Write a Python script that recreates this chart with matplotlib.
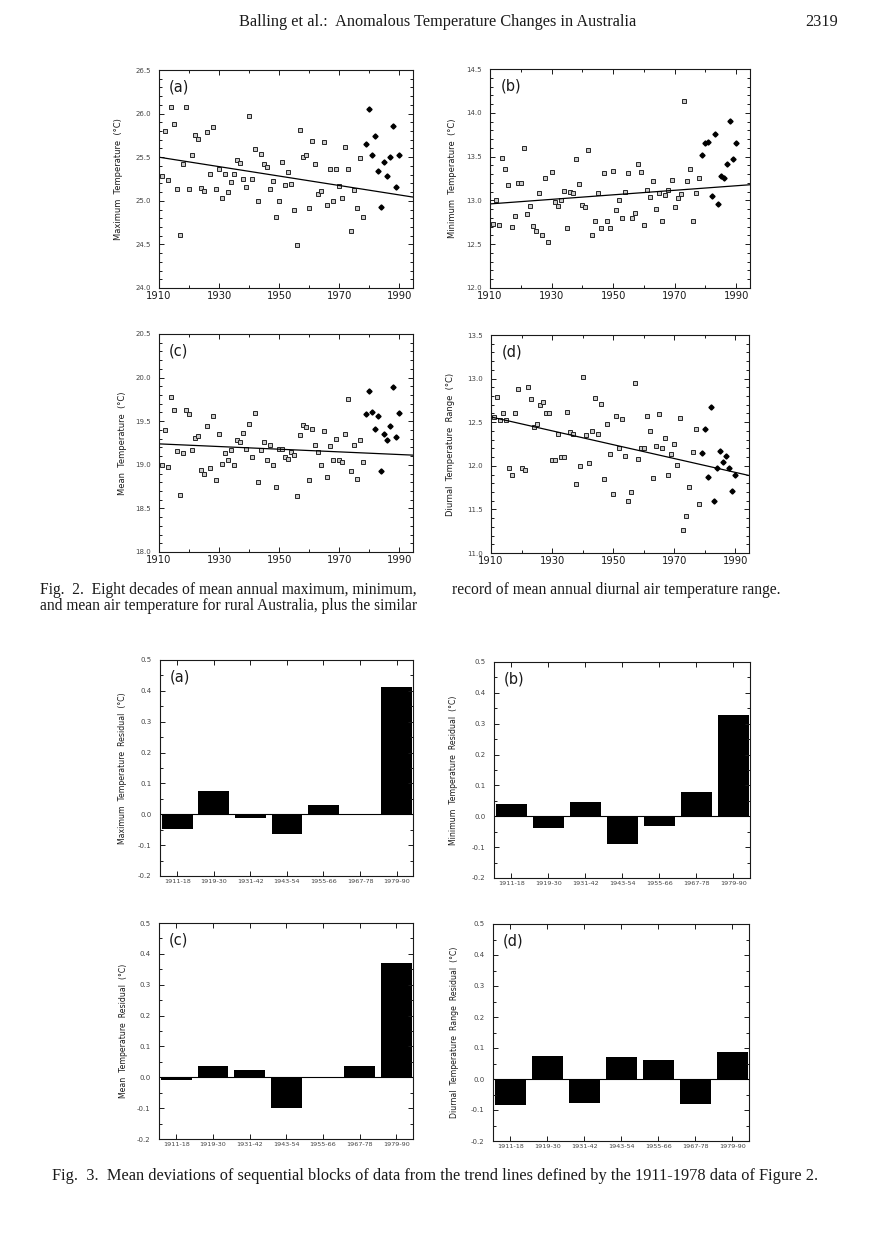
import numpy as np
import matplotlib.pyplot as plt
from matplotlib.ticker import MultipleLocator, FixedLocator, FormatStrFormatter

W, H = 876, 1250

# years: open squares = 1911-1978 (trend period), filled diamonds = 1979-1990
sq_years = list(range(1911, 1979))
dm_years = list(range(1979, 1991))
trend_years = [1910, 1995]

max_sq = [25.29, 25.80, 25.24, 26.08, 25.88, 25.14, 24.61, 25.42, 26.07, 25.14,
          25.53, 25.75, 25.71, 25.15, 25.11, 25.79, 25.31, 25.85, 25.13, 25.37,
          25.03, 25.31, 25.10, 25.21, 25.31, 25.47, 25.43, 25.25, 25.16, 25.97,
          25.25, 25.59, 25.00, 25.54, 25.42, 25.39, 25.14, 25.23, 24.81, 25.00,
          25.45, 25.18, 25.33, 25.19, 24.90, 24.49, 25.81, 25.50, 25.52, 24.92,
          25.69, 25.42, 25.08, 25.11, 25.67, 24.95, 25.36, 25.00, 25.36, 25.17,
          25.03, 25.62, 25.37, 24.65, 25.12, 24.92, 25.49, 24.81]
max_dm = [25.65, 26.05, 25.53, 25.74, 25.34, 24.93, 25.44, 25.28, 25.50, 25.86, 25.16, 25.53]
max_trend = [25.50, 25.04]

min_sq = [12.73, 13.01, 12.72, 13.48, 13.36, 13.18, 12.70, 12.82, 13.20, 13.20,
          13.60, 12.85, 12.94, 12.71, 12.65, 13.09, 12.60, 13.25, 12.52, 13.32,
          12.98, 12.94, 13.00, 13.11, 12.69, 13.10, 13.08, 13.47, 13.19, 12.95,
          12.92, 13.57, 12.61, 12.77, 13.08, 12.69, 13.31, 12.76, 12.69, 13.34,
          12.89, 13.00, 12.80, 13.10, 13.31, 12.80, 12.86, 13.41, 13.32, 12.72,
          13.12, 13.04, 13.22, 12.90, 13.09, 12.76, 13.06, 13.12, 13.23, 12.93,
          13.03, 13.07, 14.13, 13.22, 13.36, 12.77, 13.09, 13.26]
min_dm = [13.52, 13.65, 13.67, 13.05, 13.76, 12.96, 13.28, 13.26, 13.41, 13.91, 13.47, 13.66]
min_trend = [12.96, 13.18]

mean_sq = [19.00, 19.40, 18.98, 19.78, 19.63, 19.16, 18.65, 19.13, 19.63, 19.58,
           19.17, 19.31, 19.33, 18.94, 18.89, 19.45, 18.96, 19.56, 18.82, 19.35,
           19.01, 19.13, 19.06, 19.17, 19.00, 19.29, 19.26, 19.37, 19.18, 19.47,
           19.09, 19.59, 18.80, 19.17, 19.26, 19.05, 19.23, 19.00, 18.75, 19.18,
           19.18, 19.09, 19.07, 19.15, 19.11, 18.64, 19.34, 19.46, 19.43, 18.82,
           19.41, 19.23, 19.15, 19.00, 19.39, 18.86, 19.22, 19.06, 19.30, 19.05,
           19.03, 19.35, 19.75, 18.93, 19.23, 18.84, 19.29, 19.03]
mean_dm = [19.58, 19.85, 19.60, 19.41, 19.56, 18.93, 19.35, 19.28, 19.45, 19.89, 19.32, 19.59]
mean_trend = [19.24, 19.11]

dtr_sq = [12.56, 12.79, 12.52, 12.60, 12.53, 11.97, 11.90, 12.61, 12.88, 11.97,
          11.95, 12.90, 12.77, 12.45, 12.48, 12.70, 12.73, 12.60, 12.61, 12.07,
          12.07, 12.37, 12.10, 12.10, 12.62, 12.39, 12.37, 11.79, 12.00, 13.02,
          12.35, 12.03, 12.40, 12.78, 12.36, 12.71, 11.85, 12.48, 12.13, 11.68,
          12.57, 12.20, 12.54, 12.11, 11.60, 11.70, 12.95, 12.08, 12.20, 12.20,
          12.57, 12.40, 11.86, 12.23, 12.59, 12.20, 12.32, 11.90, 12.14, 12.25,
          12.01, 12.55, 11.26, 11.43, 11.76, 12.16, 12.42, 11.56]
dtr_dm = [12.15, 12.42, 11.87, 12.67, 11.60, 11.97, 12.17, 12.04, 12.11, 11.97, 11.71, 11.90]
dtr_trend = [12.56, 11.885]

# Fig. 3 block residuals
blocks = ["1911-18", "1919-30", "1931-42", "1943-54", "1955-66", "1967-78", "1979-90"]
max_resid = [-0.047, 0.075, -0.012, -0.065, 0.031, 0.0, 0.414]
min_resid = [0.039, -0.039, 0.045, -0.090, -0.032, 0.080, 0.328]
mean_resid = [-0.008, 0.035, 0.025, -0.100, 0.0, 0.038, 0.369]
dtr_resid = [-0.083, 0.074, -0.076, 0.070, 0.062, -0.082, 0.086]

INK = "#1a1a1a"
GREY = "#444444"

fig = plt.figure(figsize=(W / 100, H / 100), dpi=100)
fig.patch.set_facecolor("white")


def px_axes(left, top, right, bottom):
    return fig.add_axes([left / W, 1 - bottom / H, (right - left) / W, (bottom - top) / H])


def style_frame(ax):
    for s in ax.spines.values():
        s.set_linewidth(0.8)
        s.set_color(INK)
    ax.tick_params(which="both", direction="in", top=True, right=True,
                   color=INK, width=0.7)
    ax.tick_params(which="major", length=3.5)
    ax.tick_params(which="minor", length=2.2)


def scatter_panel(box, sq, dm, trend, ylim, ylabel, tag, label_x):
    ax = px_axes(*box)
    ax.plot(sq_years, sq, ls="none", marker="s", ms=3.4, mfc="#cccccc",
            mec="#262626", mew=0.7)
    ax.plot(dm_years, dm, ls="none", marker="D", ms=2.6, color="black")
    ax.plot(trend_years, trend, color="black", lw=0.9)
    ax.set_xlim(1910, 1994.5)
    ax.set_ylim(*ylim)
    ax.xaxis.set_major_locator(FixedLocator([1910, 1930, 1950, 1970, 1990]))
    ax.xaxis.set_minor_locator(MultipleLocator(10))
    ax.yaxis.set_major_locator(MultipleLocator(0.5))
    ax.yaxis.set_minor_locator(MultipleLocator(0.1))
    ax.yaxis.set_major_formatter(FormatStrFormatter("%.1f"))
    style_frame(ax)
    ax.tick_params(axis="x", labelsize=7.2, pad=2.5, labelcolor=INK)
    ax.tick_params(axis="y", labelsize=5, pad=6, labelcolor=GREY)
    ax.set_ylabel(ylabel, fontsize=6, color=INK)
    ax.yaxis.set_label_coords(label_x, 0.5)
    ax.text(0.04, 0.955, tag, transform=ax.transAxes, fontsize=10.5,
            ha="left", va="top", color=INK)
    return ax


def bar_panel(box, resid, ylabel, tag, label_x):
    ax = px_axes(*box)
    x = np.arange(len(blocks))
    ax.bar(x, resid, width=0.84, color="black")
    ax.axhline(0, color="black", lw=0.8)
    ax.set_xlim(-0.47, 6.45)
    ax.set_ylim(-0.2, 0.5)
    ax.set_xticks(x)
    ax.set_xticklabels(blocks)
    ax.yaxis.set_major_locator(MultipleLocator(0.1))
    ax.yaxis.set_minor_locator(MultipleLocator(0.05))
    ax.yaxis.set_major_formatter(FormatStrFormatter("%.1f"))
    style_frame(ax)
    ax.tick_params(axis="x", labelsize=4.6, pad=2.5, labelcolor=GREY)
    ax.tick_params(axis="y", labelsize=5, pad=6, labelcolor=GREY)
    ax.set_ylabel(ylabel, fontsize=5.6, color=INK)
    ax.yaxis.set_label_coords(label_x, 0.5)
    ax.text(0.04, 0.955, tag, transform=ax.transAxes, fontsize=10.5,
            ha="left", va="top", color=INK)
    return ax


# Fig. 2 scatter panels
scatter_panel((159, 70, 413, 288), max_sq, max_dm, max_trend, (24.0, 26.5),
              "Maximum  Temperature  (°C)", "(a)", -0.142)
scatter_panel((490, 69, 750, 288), min_sq, min_dm, min_trend, (12.0, 14.5),
              "Minimum  Temperature  (°C)", "(b)", -0.127)
scatter_panel((159, 334, 413, 552), mean_sq, mean_dm, mean_trend, (18.0, 20.5),
              "Mean  Temperature  (°C)", "(c)", -0.126)
scatter_panel((491, 335, 749, 553), dtr_sq, dtr_dm, dtr_trend, (11.0, 13.5),
              "Diurnal  Temperature  Range  (°C)", "(d)", -0.14)

# Fig. 3 bar panels
bar_panel((160, 660, 413, 876), max_resid,
          "Maximum  Temperature  Residual  (°C)", "(a)", -0.13)
bar_panel((494, 662, 750, 878), min_resid,
          "Minimum  Temperature  Residual  (°C)", "(b)", -0.14)
bar_panel((159, 923, 413, 1139), mean_resid,
          "Mean  Temperature  Residual  (°C)", "(c)", -0.122)
bar_panel((493, 924, 749, 1141), dtr_resid,
          "Diurnal  Temperature  Range  Residual  (°C)", "(d)", -0.133)

# page header and captions
serif = "Liberation Serif"
fig.text(438 / W, 1 - 22 / H, "Balling et al.:  Anomalous Temperature Changes in Australia",
         family=serif, fontsize=11.7, ha="center", va="center", color=INK)
fig.text(838 / W, 1 - 22 / H, "2319", family=serif, fontsize=11.7,
         ha="right", va="center", color=INK)

fig.text(40 / W, 1 - 590 / H, "Fig.  2.  Eight decades of mean annual maximum, minimum,",
         family=serif, fontsize=11.2, ha="left", va="center", color=INK)
fig.text(40 / W, 1 - 606 / H, "and mean air temperature for rural Australia, plus the similar",
         family=serif, fontsize=11.2, ha="left", va="center", color=INK)
fig.text(452 / W, 1 - 590 / H, "record of mean annual diurnal air temperature range.",
         family=serif, fontsize=11.2, ha="left", va="center", color=INK)
fig.text(52 / W, 1 - 1176 / H,
         "Fig.  3.  Mean deviations of sequential blocks of data from the trend lines "
         "defined by the 1911-1978 data of Figure 2.",
         family=serif, fontsize=11.8, ha="left", va="center", color=INK)

fig.savefig("out.png", dpi=100, facecolor="white")
